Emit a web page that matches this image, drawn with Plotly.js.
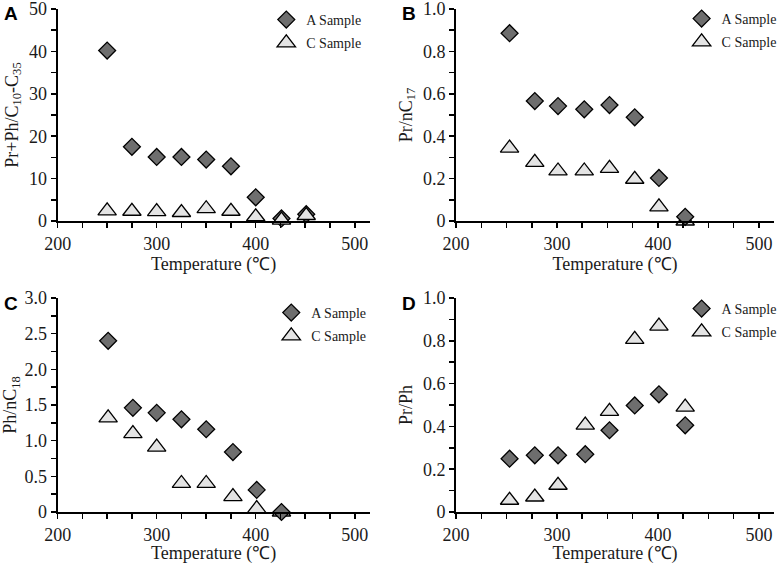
<!DOCTYPE html>
<html>
<head>
<meta charset="utf-8">
<script src="https://cdn.plot.ly/plotly-3.0.1.min.js"></script>
<style>
  html, body { margin: 0; padding: 0; background: #fff; }
  #chart { width: 782px; height: 564px; }
</style>
</head>
<body>
<div id="chart"></div>
<script>
// Panel A: Pr+Ph / C10-C35
const tempsA = [250, 275, 300, 325, 350, 375, 400, 426, 451];
const prphA = [40.2, 17.5, 15.1, 15.1, 14.5, 12.9, 5.6, 0.6, 1.6];
const prphC = [2.4, 2.3, 2.2, 2.0, 2.9, 2.3, 1.0, 0.2, 1.3];

// Panel B: Pr / nC17
const tempsB = [253, 278, 301, 327, 352, 377, 401, 427];
const prC17A = [0.886, 0.566, 0.542, 0.527, 0.547, 0.489, 0.203, 0.02];
const prC17C = [0.344, 0.277, 0.236, 0.236, 0.248, 0.197, 0.067, 0.0];

// Panel C: Ph / nC18
const tempsC = [251, 276, 300, 325, 350, 377, 401, 426];
const phC18A = [2.40, 1.46, 1.39, 1.30, 1.16, 0.84, 0.31, 0.0];
const phC18C = [1.32, 1.10, 0.91, 0.40, 0.40, 0.215, 0.047, 0.0];

// Panel D: Pr / Ph
const tempsD = [253, 278, 301, 328, 352, 377, 401, 427];
const prPhA = [0.249, 0.265, 0.265, 0.27, 0.382, 0.498, 0.55, 0.405];
const prPhC = [0.055, 0.07, 0.125, 0.406, 0.47, 0.807, 0.869, 0.49];

const SERIF = 'Liberation Serif, Times New Roman, serif';
const INK = '#1a1a1a';
const W = 782, H = 564;

const panels = [
  { key: '', letter: 'A', x: tempsA, a: prphA, c: prphC, cOnTop: true,
    title: 'Pr+Ph/C<sub>10</sub>-C<sub>35</sub>', range: [0, 50], dtick: 10, minor: 5,
    dom: [58, 372, 9, 221], legendAt: [268, 4] },
  { key: '2', letter: 'B', x: tempsB, a: prC17A, c: prC17C, cOnTop: false,
    title: 'Pr/nC<sub>17</sub>', range: [0, 1], dtick: 0.2, minor: 0.1,
    labels: ['0', '0.2', '0.4', '0.6', '0.8', '1.0'],
    dom: [459, 779, 9, 221], legendAt: [686, 3] },
  { key: '3', letter: 'C', x: tempsC, a: phC18A, c: phC18C, cOnTop: false,
    title: 'Ph/nC<sub>18</sub>', range: [0, 3], dtick: 0.5, minor: 0.25,
    labels: ['0', '0.5', '1.0', '1.5', '2.0', '2.5', '3.0'],
    dom: [58, 372, 298, 512], legendAt: [273, 297] },
  { key: '4', letter: 'D', x: tempsD, a: prPhA, c: prPhC, cOnTop: true,
    title: 'Pr/Ph', range: [0, 1], dtick: 0.2, minor: 0.1,
    labels: ['0', '0.2', '0.4', '0.6', '0.8', '1.0'],
    dom: [459, 779, 298, 512], legendAt: [686, 293] },
];

const traces = [];
const layout = {
  width: W, height: H,
  margin: { l: 0, r: 0, t: 0, b: 0 },
  paper_bgcolor: '#fff',
  plot_bgcolor: '#fff',
  font: { family: SERIF, color: INK, size: 18 },
  showlegend: true,
  annotations: [],
};

panels.forEach(p => {
  const xName = 'x' + p.key, yName = 'y' + p.key;
  const legName = 'legend' + p.key;
  const axisLine = { showline: true, linecolor: '#000', linewidth: 2, zeroline: false, showgrid: false };
  const tickStyle = { ticks: 'outside', ticklen: 5, tickwidth: 1.5, tickcolor: '#000' };

  const aTrace = {
    x: p.x, y: p.a, name: 'A Sample', type: 'scatter', mode: 'markers',
    xaxis: xName, yaxis: yName, legend: legName, legendgroup: 'a' + p.key, legendrank: 1,
    cliponaxis: false,
    marker: { symbol: 'diamond', size: 13, color: '#6e6e6e', line: { color: '#000', width: 1.3 } },
  };
  const cTrace = {
    x: p.x, y: p.c, name: 'C Sample', type: 'scatter', mode: 'markers',
    xaxis: xName, yaxis: yName, legend: legName, legendgroup: 'c' + p.key, legendrank: 2,
    cliponaxis: false,
    marker: { symbol: 'triangle-up', size: 16, color: '#e4e4e4', line: { color: '#000', width: 1.3 } },
  };
  // draw order matters where the two samples overlap
  if (p.cOnTop) traces.push(aTrace, cTrace); else traces.push(cTrace, aTrace);

  const [l, r, t, b] = p.dom;
  layout['xaxis' + p.key] = {
    ...axisLine, ...tickStyle,
    domain: [l / W, r / W], anchor: yName,
    range: [200, 515], dtick: 100, tick0: 200,
    minor: { dtick: 25, tick0: 200, ...tickStyle },
    tickfont: { family: SERIF, size: 18, color: INK },
    title: { text: 'Temperature (℃)', font: { family: SERIF, size: 18, color: INK }, standoff: 0 },
  };
  const yAxis = {
    ...axisLine, ...tickStyle,
    domain: [1 - b / H, 1 - t / H], anchor: xName,
    range: p.range,
    ticklabeloverflow: 'allow',
    minor: { dtick: p.minor, tick0: 0, ...tickStyle },
    tickfont: { family: SERIF, size: 18, color: INK },
    title: { text: p.title, font: { family: SERIF, size: 18, color: INK }, standoff: 6 },
  };
  if (p.labels) {
    yAxis.tickvals = p.labels.map(Number);
    yAxis.ticktext = p.labels;
  } else {
    yAxis.dtick = p.dtick;
  }
  layout['yaxis' + p.key] = yAxis;

  layout[legName] = {
    x: p.legendAt[0] / W, y: 1 - p.legendAt[1] / H,
    xanchor: 'left', yanchor: 'top',
    bgcolor: 'rgba(0,0,0,0)',
    traceorder: 'grouped', tracegroupgap: 2,
    font: { family: SERIF, size: 14, color: INK },
  };

  layout.annotations.push({
    text: '<b>' + p.letter + '</b>',
    xref: 'paper', yref: 'paper',
    x: (l - 47) / W, y: 1 - (t + 5) / H,
    xanchor: 'center', yanchor: 'middle', showarrow: false,
    font: { family: 'Liberation Sans, Arial, sans-serif', size: 19, color: '#000' },
  });
});

Plotly.newPlot('chart', traces, layout, { displayModeBar: false, staticPlot: true });
</script>
</body>
</html>
